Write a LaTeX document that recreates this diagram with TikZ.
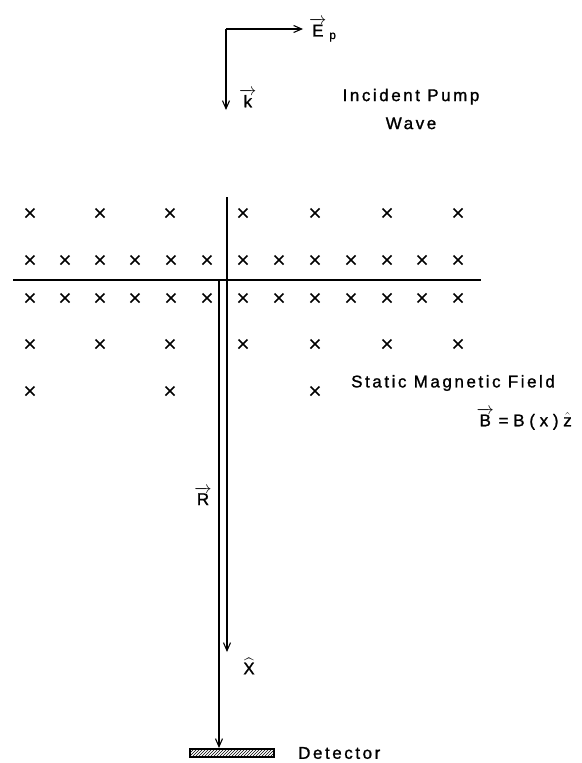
\documentclass[tikz,border=0pt]{standalone}
\usepackage{amsmath}
\usepackage{fontspec}
\setmainfont{Liberation Sans}[LetterSpace=15,FakeBold=1.2]
\usetikzlibrary{arrows.meta,patterns}
\tikzset{
  ray/.style={line width=1.1pt},
  arr/.style={line width=1.1pt,-{Straight Barb[length=8pt,width=7pt,line width=1.1pt]}},
  lbl/.style={inner sep=0pt,font=\fontsize{17}{28}\selectfont},
  cross/.style={line width=1.7pt},
}
\newcommand{\xmark}[2]{\draw[cross] (#1-4.5,#2-4.5) -- (#1+4.5,#2+4.5) (#1-4.5,#2+4.5) -- (#1+4.5,#2-4.5);}
\newcommand{\ovec}[1]{\ensuremath{\overrightarrow{\text{#1}}}}
\begin{document}
\begin{tikzpicture}[x=1pt,y=-1pt]
\useasboundingbox (0,0) rectangle (581,763);
% incident pump polarization
\coordinate (c0) at (226,29);
\coordinate (ep) at (303,29);
\coordinate (kt) at (226,110);
\draw[arr] (c0) -- (ep);
\draw[arr] (c0) -- (kt);
\node[lbl,anchor=west] (eplbl) at (309,30) {\ovec{E}\,$_{\text{p}}$};
\node[lbl,anchor=west] (klbl) at (239,98) {\ovec{k}};
\node[lbl,align=center] (pump) at (411,109) {Incident Pump\\Wave};
% boundary
\coordinate (bl) at (13,280);
\coordinate (br) at (481,280);
\draw[ray] (bl) -- (br);
% rays
\coordinate (xtop) at (227,197);
\coordinate (xtip) at (227,652);
\draw[arr] (xtop) -- (xtip);
\coordinate (rtop) at (219,280);
\coordinate (rtip) at (219,748);
\draw[arr] (rtop) -- (rtip);
\node[lbl] (rlbl) at (203,496) {\ovec{R}};
\node[lbl] (xlbl) at (249,666) {$\widehat{\text{X}}$};
% detector
\draw[line width=1.1pt,pattern=north east lines] (190,749) rectangle (274,757);
\node[lbl,anchor=west] (det) at (298,753) {Detector};
% field labels
\node[lbl,anchor=west] (smf) at (351,383) {Static Magnetic Field};
\node[lbl,anchor=east] (beq) at (572,419) {\ovec{B}\;=\;B\;(\;x\;)\;$\hat{\text{z}}$};
% crosses
\foreach \x in {30,100,170,243,315,387,458} {\xmark{\x}{213}}
\foreach \x in {30,65,100,135,171,207,243,279,315,351,387,422,458} {\xmark{\x}{260}\xmark{\x}{298}}
\foreach \x in {30,100,170,243,315,387,458} {\xmark{\x}{344}}
\foreach \x in {30,170,315} {\xmark{\x}{391}}
\end{tikzpicture}
\end{document}
